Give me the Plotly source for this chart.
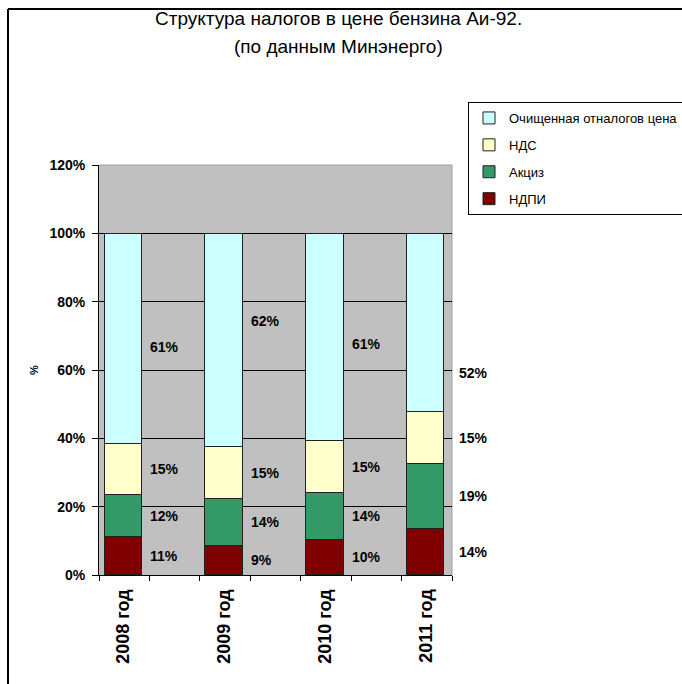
import plotly.graph_objects as go

# Доля налогов в цене бензина Аи-92, % от цены
years = ["2008 год", "2009 год", "2010 год", "2011 год"]
ndpi = [11.0, 8.6, 10.3, 13.6]          # НДПИ
akciz = [12.4, 13.6, 13.8, 19.0]        # Акциз
nds = [15.0, 15.2, 15.1, 15.1]          # НДС
clean = [61.4, 62.4, 60.6, 52.1]        # Очищенная от налогов цена

series = [
    ("НДПИ", ndpi, "#800000"),
    ("Акциз", akciz, "#339966"),
    ("НДС", nds, "#FFFFCC"),
    ("Очищенная отналогов цена", clean, "#CCFFFF"),
]

# vertical nudge (px) of the label of the top segment in each column
top_label_shift = [-8, 20, -6, -50]
# horizontal gap (axis units) between bar centre and its labels
label_gap = [0.5, 0.5, 0.5, 0.62]

# each year occupies two slots on the category axis; the bar sits in the first
centers = [0.48, 2.48, 4.48, 6.48]
bar_width = 0.74
X_MAX = 7
FONT = "Liberation Sans"

# plot-area box in pixels and helpers converting pixels to paper coords
L, R, T, B = 99, 452, 165, 575
W, H = R - L, B - T
def px(xp):
    return (xp - L) / W
def py(yp):
    return (B - yp) / H

fig = go.Figure()
for i, (name, vals, color) in enumerate(series):
    fig.add_trace(go.Bar(
        x=centers, y=[v / 100 for v in vals], width=bar_width, name=name,
        marker=dict(color=color, line=dict(color="#202020", width=1)),
        legendgroup=name, legendrank=len(series) - i, hoverinfo="skip",
    ))

# value labels to the right of each segment
annotations = []
for j, c in enumerate(centers):
    base = 0.0
    for k, (name, vals, color) in enumerate(series):
        v = vals[j] / 100
        annotations.append(dict(
            x=(c + label_gap[j]) / X_MAX, y=base + v / 2, xref="paper", yref="y",
            xanchor="left", yanchor="middle",
            yshift=top_label_shift[j] if k == len(series) - 1 else 0,
            text=f"{round(vals[j])}%", showarrow=False,
            font=dict(family=FONT, size=14, color="black", weight="bold"),
        ))
        base += v

# axis title and two-line chart title
annotations.append(dict(
    x=px(34), y=0.5, xref="paper", yref="paper", xanchor="center",
    yanchor="middle", text="%", textangle=-90, showarrow=False,
    font=dict(family=FONT, size=11, color="black", weight="bold"),
))
annotations.append(dict(
    x=px(338), y=py(19), xref="paper", yref="paper", xanchor="center",
    yanchor="middle", text="Структура налогов в цене бензина Аи-92.",
    showarrow=False, font=dict(family=FONT, size=19, color="black"),
))
annotations.append(dict(
    x=px(338), y=py(47), xref="paper", yref="paper", xanchor="center",
    yanchor="middle", text="(по данным Минэнерго)",
    showarrow=False, font=dict(family=FONT, size=19, color="black"),
))

# chart frame and plot-area edges
shapes = [
    dict(type="line", xref="paper", yref="paper", x0=px(8), x1=px(700),
         y0=py(9), y1=py(9), line=dict(color="black", width=2)),
    dict(type="line", xref="paper", yref="paper", x0=px(8), x1=px(8),
         y0=py(9), y1=py(700), line=dict(color="black", width=2)),
    dict(type="line", xref="paper", yref="paper", x0=0, x1=1, y0=1, y1=1,
         line=dict(color="#A0A0A0", width=1), layer="below"),
    dict(type="line", xref="paper", yref="paper", x0=1, x1=1, y0=0, y1=1,
         line=dict(color="#A0A0A0", width=1), layer="below"),
]

fig.update_layout(
    width=682, height=684,
    margin=dict(l=L, r=682 - R, t=T, b=684 - B, autoexpand=False),
    paper_bgcolor="white", plot_bgcolor="#C0C0C0",
    barmode="stack", bargap=0,
    font=dict(family=FONT, color="black"),
    legend=dict(
        x=px(468), xanchor="left", y=py(102), yanchor="top",
        traceorder="grouped", bordercolor="black", borderwidth=1,
        bgcolor="white", font=dict(family=FONT, size=13, color="black"),
        tracegroupgap=7, itemwidth=30,
    ),
    xaxis=dict(
        range=[0, X_MAX], tickvals=centers, ticktext=years, tickangle=-90,
        ticks="", showgrid=False, zeroline=False, showline=True,
        linecolor="black", linewidth=1, ticklabelstandoff=6,
        tickfont=dict(family=FONT, size=18, color="black", weight="bold"),
    ),
    xaxis2=dict(
        range=[0, X_MAX], overlaying="x", side="bottom",
        tickvals=list(range(X_MAX + 1)),
        ticks="outside", ticklen=5, tickcolor="black", showticklabels=False,
        showgrid=False, zeroline=False, showline=False,
    ),
    yaxis=dict(
        range=[0, 1.2], tickvals=[0, 0.2, 0.4, 0.6, 0.8, 1.0, 1.2],
        tickformat=".0%", ticks="outside", ticklen=6, tickcolor="black",
        showline=True, linecolor="black", linewidth=1, ticklabelstandoff=4,
        showgrid=True, gridcolor="black", gridwidth=1, zeroline=False,
        tickfont=dict(family=FONT, size=14, color="black", weight="bold"),
    ),
    annotations=annotations,
    shapes=shapes,
    showlegend=True,
)

# invisible trace so the secondary x axis draws its tick marks
fig.add_trace(go.Scatter(x=[0], y=[0], xaxis="x2", mode="markers",
                         marker=dict(opacity=0), showlegend=False,
                         hoverinfo="skip"))

fig.write_html("out.html")
